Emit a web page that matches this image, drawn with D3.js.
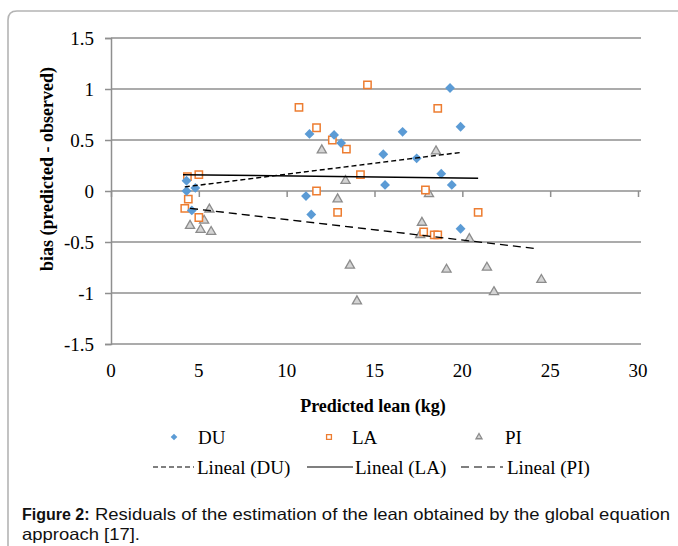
<!DOCTYPE html>
<html>
<head>
<meta charset="utf-8">
<script src="https://cdn.jsdelivr.net/npm/d3@7"></script>
<style>
  html, body { margin: 0; padding: 0; background: #fff; }
  svg { display: block; }
</style>
</head>
<body>
<div id="vis"></div>
<script>
// residual scatter, three breeds + linear trends

const duX = [4.3, 4.3, 4.8, 4.6, 11.1, 11.4, 11.3, 12.7, 13.1, 15.5, 15.6, 16.6, 17.4, 18.8, 19.3, 19.4, 19.9, 19.9];
const duY = [0.10, 0.00, 0.03, -0.19, -0.05, -0.23, 0.56, 0.55, 0.47, 0.36, 0.06, 0.58, 0.32, 0.17, 1.01, 0.06, 0.63, -0.37];

const laX = [4.35, 5.0, 4.4, 4.2, 5.0, 10.7, 11.7, 11.7, 12.6, 12.9, 13.4, 14.2, 14.6, 17.9, 17.8, 18.4, 18.6, 18.6, 20.9];
const laY = [0.14, 0.16, -0.08, -0.17, -0.26, 0.82, 0.62, 0.00, 0.50, -0.21, 0.41, 0.16, 1.04, 0.01, -0.40, -0.43, -0.43, 0.81, -0.21];

const piX = [5.6, 5.3, 4.5, 5.1, 5.7, 12.0, 18.5, 13.35, 12.9, 18.1, 17.7, 17.6, 20.4, 13.6, 19.1, 21.4, 24.5, 21.8, 14.0];
const piY = [-0.18, -0.29, -0.34, -0.38, -0.40, 0.40, 0.39, 0.10, -0.08, -0.03, -0.31, -0.43, -0.47, -0.73, -0.77, -0.75, -0.87, -0.99, -1.08];

// trend line end points
const trendDU = [[4.2, 0.04], [20.0, 0.38]];
const trendLA = [[4.1, 0.16], [20.9, 0.125]];
const trendPI = [[4.5, -0.17], [24.2, -0.565]];

const xTicks = [0, 5, 10, 15, 20, 25, 30];
const yTicks = [-1.5, -1, -0.5, 0, 0.5, 1, 1.5];

const W = 678, H = 546;
const serif = '"Liberation Serif", "Times New Roman", serif';
const sans = '"Liberation Sans", Arial, sans-serif';

const svg = d3.select('#vis').append('svg')
  .attr('width', W).attr('height', H);

// outer frame (runs off right/bottom edge)
svg.append('path')
  .attr('d', 'M8,560 L8,20 Q8,11 17,11 L690,11')
  .attr('fill', 'none')
  .attr('stroke', '#b4b4b4')
  .attr('stroke-width', 1.6);

const x = d3.scaleLinear().domain([0, 30]).range([111, 638]);
const y = d3.scaleLinear().domain([-1.5, 1.5]).range([344, 38]);

// gridlines
svg.append('g').selectAll('line').data(yTicks).enter().append('line')
  .attr('x1', x(0)).attr('x2', x(30) + 3)
  .attr('y1', d => y(d)).attr('y2', d => y(d))
  .attr('stroke', '#8f8f8f').attr('stroke-width', 1.5);

// y axis (plain hyphen for negatives, as in the original)
const yAxis = svg.append('g')
  .attr('transform', `translate(${x(0)},0)`)
  .call(d3.axisLeft(y).tickValues(yTicks).tickSize(6).tickPadding(11)
    .tickFormat(d => String(d)));
yAxis.select('.domain').attr('stroke', '#8f8f8f').attr('stroke-width', 1.5);
yAxis.selectAll('.tick line').attr('stroke', '#8f8f8f').attr('stroke-width', 1.5);
yAxis.selectAll('.tick text')
  .attr('font-family', serif).attr('font-size', 19).attr('fill', '#000');

// x axis sits on y = 0, labels low
const xAxis = svg.append('g')
  .attr('transform', `translate(0,${y(0)})`)
  .call(d3.axisBottom(x).tickValues(xTicks).tickSize(6).tickFormat(''));
xAxis.select('.domain').remove();
xAxis.selectAll('.tick line').attr('stroke', '#8f8f8f').attr('stroke-width', 1.5);

svg.append('g').selectAll('text').data(xTicks).enter().append('text')
  .attr('x', d => x(d)).attr('y', 377)
  .attr('text-anchor', 'middle')
  .attr('font-family', serif).attr('font-size', 19)
  .text(d => d);

// axis titles
svg.append('text')
  .attr('transform', 'translate(47,169) rotate(-90)')
  .attr('text-anchor', 'middle').attr('dominant-baseline', 'central')
  .attr('font-family', serif).attr('font-size', 18).attr('font-weight', 'bold')
  .text('bias (predicted - observed)');

svg.append('text')
  .attr('x', 373).attr('y', 412)
  .attr('text-anchor', 'middle')
  .attr('font-family', serif).attr('font-size', 18).attr('font-weight', 'bold')
  .text('Predicted lean (kg)');

// markers
const blue = '#5b9bd5', orange = '#ed7d31', grey = '#8c8c8c', greyFill = '#d4d4d4';
const diamond = d3.symbol().type(d3.symbolDiamond2).size(62);
const square = d3.symbol().type(d3.symbolSquare2).size(68);
const tri = d3.symbol().type(d3.symbolTriangle2).size(60);

const pts = (xs, ys) => xs.map((v, i) => [v, ys[i]]);

svg.append('g').selectAll('path').data(pts(piX, piY)).enter().append('path')
  .attr('d', tri)
  .attr('transform', d => `translate(${x(d[0])},${y(d[1])})`)
  .attr('fill', greyFill).attr('stroke', grey).attr('stroke-width', 1.3);

svg.append('g').selectAll('path').data(pts(laX, laY)).enter().append('path')
  .attr('d', square)
  .attr('transform', d => `translate(${x(d[0])},${y(d[1])})`)
  .attr('fill', '#fff').attr('stroke', orange).attr('stroke-width', 1.5);

svg.append('g').selectAll('path').data(pts(duX, duY)).enter().append('path')
  .attr('d', diamond)
  .attr('transform', d => `translate(${x(d[0])},${y(d[1])})`)
  .attr('fill', blue);

// trend lines
const line = d3.line().x(d => x(d[0])).y(d => y(d[1]));
const trends = [
  { data: trendDU, dash: '5,3' },
  { data: trendLA, dash: null },
  { data: trendPI, dash: '8,5' }
];
trends.forEach(t => {
  svg.append('path')
    .attr('d', line(t.data))
    .attr('fill', 'none').attr('stroke', '#000').attr('stroke-width', 1.4)
    .attr('stroke-dasharray', t.dash);
});

// legend
const leg = svg.append('g').attr('font-family', serif).attr('font-size', 19);
const row1 = 437, row2 = 467;
const legMarks = [
  { sym: d3.symbol().type(d3.symbolDiamond2).size(28), cx: 174, fill: blue, stroke: 'none', label: 'DU', tx: 198 },
  { sym: d3.symbol().type(d3.symbolSquare2).size(30), cx: 329, fill: '#fff', stroke: orange, label: 'LA', tx: 352 },
  { sym: d3.symbol().type(d3.symbolTriangle2).size(26), cx: 479, fill: greyFill, stroke: grey, label: 'PI', tx: 505 }
];
legMarks.forEach(m => {
  leg.append('path').attr('d', m.sym)
    .attr('transform', `translate(${m.cx},${row1})`)
    .attr('fill', m.fill).attr('stroke', m.stroke).attr('stroke-width', 1.3);
  leg.append('text').attr('x', m.tx).attr('y', row1)
    .attr('dominant-baseline', 'central').text(m.label);
});
const legLines = [
  { x1: 153, x2: 194, dash: '5,3', label: 'Lineal (DU)', tx: 197 },
  { x1: 307, x2: 353, dash: null, label: 'Lineal (LA)', tx: 355 },
  { x1: 461, x2: 503, dash: '8,5', label: 'Lineal (PI)', tx: 507 }
];
legLines.forEach(l => {
  leg.append('line').attr('x1', l.x1).attr('x2', l.x2)
    .attr('y1', row2).attr('y2', row2)
    .attr('stroke', '#000').attr('stroke-width', 1.2)
    .attr('stroke-dasharray', l.dash);
  leg.append('text').attr('x', l.tx).attr('y', row2)
    .attr('dominant-baseline', 'central').text(l.label);
});

// caption (regular text is set a little wider in the original)
const cap = svg.append('g').attr('font-family', sans).attr('fill', '#111');
cap.append('text').attr('x', 22).attr('y', 520)
  .attr('font-size', 16).attr('font-weight', 'bold').text('Figure 2:');
cap.append('text').attr('x', 95).attr('y', 520)
  .attr('font-size', 16.5)
  .attr('textLength', 575).attr('lengthAdjust', 'spacingAndGlyphs')
  .text('Residuals of the estimation of the lean obtained by the global equation');
cap.append('text').attr('x', 22).attr('y', 540)
  .attr('font-size', 16.5)
  .attr('textLength', 118).attr('lengthAdjust', 'spacingAndGlyphs')
  .text('approach [17].');
</script>
</body>
</html>
